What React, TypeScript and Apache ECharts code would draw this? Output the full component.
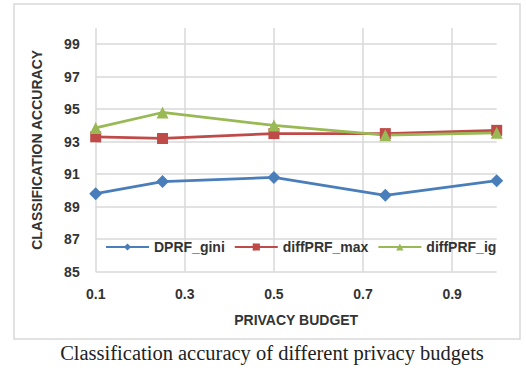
import React, { useEffect, useRef } from "react";
import * as echarts from "echarts";

const budgets = [0.1, 0.25, 0.5, 0.75, 1.0];
const dprfGini = [89.8, 90.55, 90.8, 89.7, 90.6];
const diffprfMax = [93.3, 93.2, 93.5, 93.5, 93.7];
const diffprfIg = [93.85, 94.8, 94.0, 93.4, 93.55];
const seriesNames = ["DPRF_gini", "diffPRF_max", "diffPRF_ig"];
const xAxisTitle = "PRIVACY BUDGET";
const yAxisTitle = "CLASSIFICATION ACCURACY";
const caption = "Classification accuracy of different privacy budgets";

const FONT = "'Liberation Sans', Arial, sans-serif";

export default function App() {
  const ref = useRef<HTMLDivElement>(null);
  useEffect(() => {
    if (!ref.current) return;
    const chart = echarts.init(ref.current, null, { renderer: "svg" });
    const toPairs = (vals: number[]) => budgets.map((b, i) => [b, vals[i]]);
    chart.setOption({
      animation: false,
      backgroundColor: "#ffffff",
      grid: { left: 95.7, right: 29.3, top: 28, bottom: 104.3, containLabel: false },
      xAxis: {
        type: "value",
        min: 0.1,
        max: 1.0,
        interval: 0.2,
        name: xAxisTitle,
        nameLocation: "middle",
        nameGap: 41,
        nameTextStyle: { fontFamily: FONT, fontWeight: "bold", fontSize: 14, color: "#333" },
        axisLine: { show: false },
        axisTick: { show: false },
        axisLabel: {
          showMaxLabel: false,
          margin: 15,
          fontFamily: FONT,
          fontWeight: "bold",
          fontSize: 14,
          color: "#333",
          formatter: (v: number) => v.toFixed(1),
        },
        splitLine: { show: true, showMaxLine: false, lineStyle: { color: "#d9d9d9", width: 1.5 } },
      },
      yAxis: {
        type: "value",
        min: 85,
        max: 100,
        interval: 2,
        name: yAxisTitle,
        nameLocation: "middle",
        nameGap: 52,
        nameTextStyle: { fontFamily: FONT, fontWeight: "bold", fontSize: 14, color: "#333" },
        axisLine: { show: false },
        axisTick: { show: false },
        axisLabel: {
          showMaxLabel: false,
          margin: 16,
          fontFamily: FONT,
          fontWeight: "bold",
          fontSize: 14,
          color: "#333",
        },
        splitLine: { show: true, showMaxLine: false, lineStyle: { color: "#d9d9d9", width: 1.5 } },
      },
      legend: {
        left: 100,
        top: 235,
        itemWidth: 43,
        itemHeight: 9,
        itemGap: 9,
        textStyle: { fontFamily: FONT, fontWeight: "bold", fontSize: 14, color: "#333" },
        data: seriesNames,
      },
      series: [
        {
          name: seriesNames[0],
          type: "line",
          data: toPairs(dprfGini),
          symbol: "diamond",
          symbolSize: 13,
          lineStyle: { color: "#4a7ebb", width: 2.75 },
          itemStyle: { color: "#4a7ebb" },
        },
        {
          name: seriesNames[1],
          type: "line",
          data: toPairs(diffprfMax),
          symbol: "rect",
          symbolSize: 11,
          lineStyle: { color: "#be4b48", width: 2.75 },
          itemStyle: { color: "#be4b48" },
        },
        {
          name: seriesNames[2],
          type: "line",
          data: toPairs(diffprfIg),
          symbol: "triangle",
          symbolSize: 12,
          lineStyle: { color: "#98b954", width: 2.75 },
          itemStyle: { color: "#98b954" },
        },
      ],
      graphic: [
        {
          type: "rect",
          z: -10,
          shape: { x: 14, y: 4, width: 506, height: 335 },
          style: { fill: "none", stroke: "#d9d9d9", lineWidth: 1.5 },
        },
        {
          type: "text",
          x: 272,
          y: 353,
          style: {
            text: caption,
            fontFamily: "'Liberation Serif', 'Times New Roman', serif",
            fontSize: 20.5,
            fill: "#222",
            align: "center",
            verticalAlign: "middle",
          },
        },
      ],
    });
    return () => chart.dispose();
  }, []);
  return (
    <div
      ref={ref}
      style={{ position: "absolute", left: 0, top: 0, width: 526, height: 376 }}
    />
  );
}
